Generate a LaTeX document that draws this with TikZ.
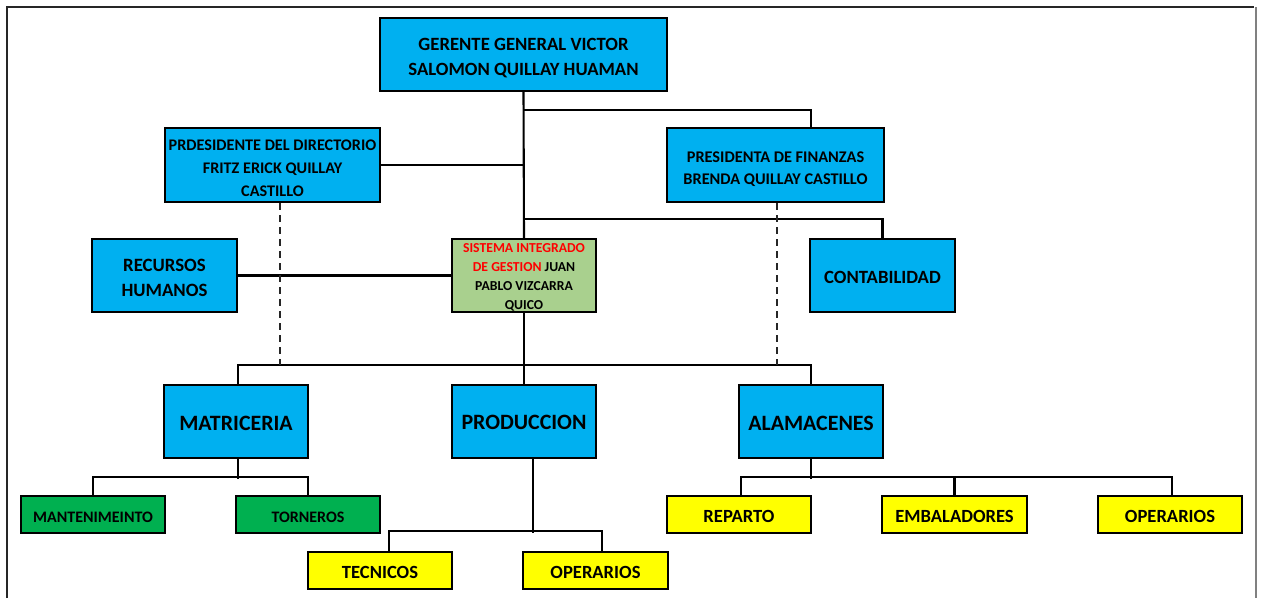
\documentclass[tikz,border=0pt]{standalone}
\usepackage{fontspec}
\setmainfont{Carlito}
\usetikzlibrary{calc}
\definecolor{boxblue}{RGB}{0,176,240}
\definecolor{boxgreen}{RGB}{0,176,80}
\definecolor{boxyellow}{RGB}{255,255,0}
\definecolor{siggreen}{RGB}{169,208,142}
\definecolor{framegray}{RGB}{128,128,128}
\definecolor{inkred}{RGB}{255,0,0}

\begin{document}
\begin{tikzpicture}[x=1pt,y=-1pt,
  unit/.style={draw=black, line width=2.3pt, inner sep=0pt},
  caption/.style={inner sep=0pt, align=center, text=black},
  fs/.style 2 args={font=\fontsize{#1}{#2}\selectfont\bfseries},
  bluebox/.style={unit, fill=boxblue},
  greenbox/.style={unit, fill=boxgreen, minimum width=144pt, minimum height=37pt},
  yellowbox/.style={unit, fill=boxyellow, minimum width=144pt, minimum height=37pt},
  sigbox/.style={unit, fill=siggreen},
  small/.style={caption, fs={16}{19}},
  mid/.style={caption, fs={18.6}{22}},
  big/.style={caption, fs={21.9}{26}},
  link/.style={line width=2.1pt, draw=black},
  dashlink/.style={line width=2.2pt, draw=black!85, dash pattern=on 7pt off 5pt}
]
\useasboundingbox (0,0) rectangle (1261,598);

% page frame
\draw[line width=1.5pt, black!85] (7,598) -- (7,7) -- (1254,7);
\draw[line width=2.4pt, framegray] (1256,7) -- (1256,598);

% boxes: top management
\node[bluebox, minimum width=287pt, minimum height=73pt] (ger) at (523.5,54.5) {};
\node[bluebox, minimum width=215pt, minimum height=74pt] (pdir) at (272.5,165) {};
\node[bluebox, minimum width=217pt, minimum height=74pt] (pfin) at (775.5,165) {};
% boxes: staff units
\node[bluebox, minimum width=145pt, minimum height=73pt] (rh) at (164.5,275.5) {};
\node[sigbox, minimum width=144pt, minimum height=73pt] (sig) at (524,275.5) {};
\node[bluebox, minimum width=145pt, minimum height=73pt] (cont) at (882.5,275.5) {};
% boxes: departments
\node[bluebox, minimum width=144pt, minimum height=73pt] (mat) at (236,421.5) {};
\node[bluebox, minimum width=144pt, minimum height=73pt] (prod) at (524,421.5) {};
\node[bluebox, minimum width=144pt, minimum height=73pt] (alm) at (811,421.5) {};
% boxes: sections
\node[greenbox] (mant) at (93,514.5) {};
\node[greenbox] (torn) at (308,514.5) {};
\node[yellowbox] (tec) at (380,570.5) {};
\node[yellowbox, minimum width=145pt] (opp) at (595.5,570.5) {};
\node[yellowbox] (rep) at (739,514.5) {};
\node[yellowbox, minimum width=145pt] (emb) at (954.5,514.5) {};
\node[yellowbox] (opa) at (1170,514.5) {};

% captions
\node[caption, fs={18.7}{25}] (ger-t) at ($(ger.center)+(0,4)$)
  {GERENTE GENERAL VICTOR\\SALOMON QUILLAY HUAMAN};
\node[caption, fs={16.2}{23}] (pdir-t) at ($(pdir.center)+(0,3)$)
  {PRDESIDENTE DEL DIRECTORIO\\FRITZ ERICK QUILLAY\\CASTILLO};
\node[caption, fs={16.3}{22}] (pfin-t) at ($(pfin.center)+(0,4)$)
  {PRESIDENTA DE FINANZAS\\BRENDA QUILLAY CASTILLO};
\node[caption, fs={18.8}{25}] (rh-t) at ($(rh.center)+(0,2)$) {RECURSOS\\HUMANOS};
\node[caption, fs={13.7}{19.2}] (sig-t) at ($(sig.center)+(0,2)$)
  {\textcolor{inkred}{SISTEMA INTEGRADO}\\\textcolor{inkred}{DE GESTION} JUAN\\PABLO VIZCARRA\\QUICO};
\node[caption, fs={18.7}{22}] (cont-t) at ($(cont.center)+(0,2)$) {CONTABILIDAD};
\node[big] (mat-t) at ($(mat.center)+(0,2)$) {MATRICERIA};
\node[big] (prod-t) at ($(prod.center)+(0,1)$) {PRODUCCION};
\node[big] (alm-t) at ($(alm.center)+(0,2)$) {ALAMACENES};
\node[small] (mant-t) at ($(mant.center)+(0,3)$) {MANTENIMEINTO};
\node[small] (torn-t) at ($(torn.center)+(0,3)$) {TORNEROS};
\node[mid] (tec-t) at ($(tec.center)+(0,2)$) {TECNICOS};
\node[mid] (opp-t) at ($(opp.center)+(0,2)$) {OPERARIOS};
\node[mid] (rep-t) at ($(rep.center)+(0,2)$) {REPARTO};
\node[mid] (emb-t) at ($(emb.center)+(0,2)$) {EMBALADORES};
\node[mid] (opa-t) at ($(opa.center)+(0,2)$) {OPERARIOS};

% junctions on the main trunk
\coordinate (jfin) at ($(ger.south)+(0,18)$);
\coordinate (jcon) at ($(ger.south)+(0,127)$);
\coordinate (bus) at ($(prod.north)+(0,-19)$);

% main trunk and its branches
\draw[link] (ger.south) -- (sig.north);
\draw[link] (jfin) -| ([xshift=35.5pt]pfin.north);
\draw[link] (pdir.east) -- (pdir.east -| ger.south);
\draw[link] (jcon) -| (cont.north);
\draw[link] (rh.east) -- (sig.west);
\draw[link] (sig.south) -- (prod.north);
\draw[link] ([xshift=2pt]mat.north) |- (bus) -| (alm.north);

% advisory links
\draw[dashlink] ([xshift=7.5pt]pdir.south) -- ([xshift=7.5pt]pdir.south |- bus);
\draw[dashlink] ([xshift=1.5pt]pfin.south) -- ([xshift=1.5pt]pfin.south |- bus);

% MATRICERIA sections
\draw[link] ([xshift=2pt]mat.south) -- ++(0,20);
\draw[link] (mant.north) -- ++(0,-18) -| (torn.north);

% PRODUCCION sections
\draw[link] ([xshift=9pt]prod.south) -- ++(0,74);
\draw[link] ([xshift=9pt]tec.north) -- ++(0,-20) -| ([xshift=6.5pt]opp.north);

% ALAMACENES sections
\draw[link] (alm.south) -- ++(0,20);
\draw[link] ([xshift=2pt]rep.north) -- ++(0,-18) -| ([xshift=2pt]opa.north);
\draw[link] (emb.north) -- ++(0,-18);
\end{tikzpicture}
\end{document}
